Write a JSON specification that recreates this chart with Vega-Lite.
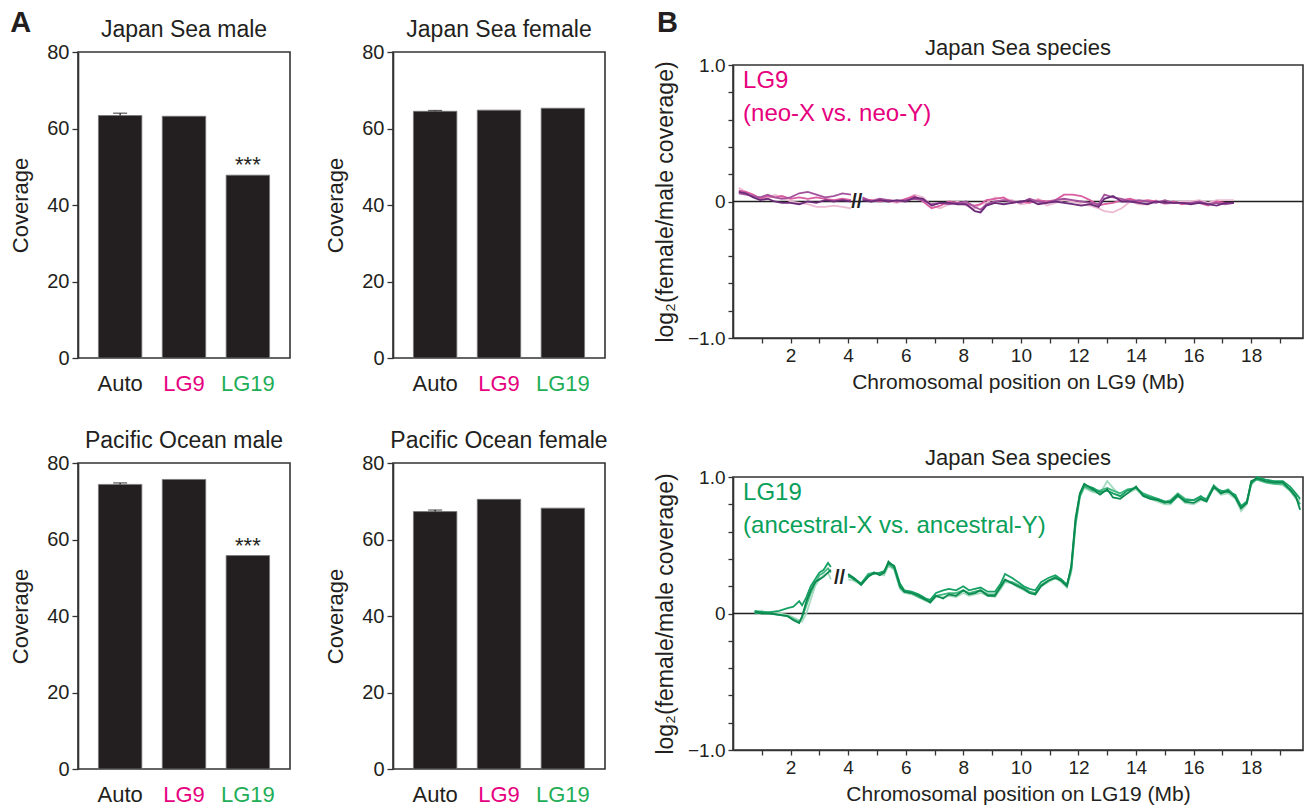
{
  "$schema": "https://vega.github.io/schema/vega-lite/v6.json",
  "padding": {"left": 8, "top": 7, "right": 2, "bottom": 2},
  "background": "white",
  "config": {
    "font": "Liberation Sans",
    "view": {"stroke": "#333333", "strokeWidth": 1.6},
    "axis": {"domainColor": "#333333", "domainWidth": 1.6, "tickColor": "#333333", "tickWidth": 1.3, "labelColor": "#231f20", "titleColor": "#231f20", "grid": false, "titleFontWeight": "normal", "labelFont": "Liberation Sans", "titleFont": "Liberation Sans"},
    "text": {"font": "Liberation Sans", "color": "#231f20"}
  },
  "datasets": {
    "bars": [
      {"panel": "JSM", "chrom": "Auto", "coverage": 63.4, "upper": 64.0, "sig": ""},
      {"panel": "JSM", "chrom": "LG9", "coverage": 63.2, "upper": 63.2, "sig": ""},
      {"panel": "JSM", "chrom": "LG19", "coverage": 47.8, "upper": 47.8, "sig": "***"},
      {"panel": "JSF", "chrom": "Auto", "coverage": 64.5, "upper": 64.7, "sig": ""},
      {"panel": "JSF", "chrom": "LG9", "coverage": 64.8, "upper": 64.8, "sig": ""},
      {"panel": "JSF", "chrom": "LG19", "coverage": 65.3, "upper": 65.3, "sig": ""},
      {"panel": "POM", "chrom": "Auto", "coverage": 74.4, "upper": 74.8, "sig": ""},
      {"panel": "POM", "chrom": "LG9", "coverage": 75.7, "upper": 75.7, "sig": ""},
      {"panel": "POM", "chrom": "LG19", "coverage": 55.8, "upper": 55.8, "sig": "***"},
      {"panel": "POF", "chrom": "Auto", "coverage": 67.3, "upper": 67.7, "sig": ""},
      {"panel": "POF", "chrom": "LG9", "coverage": 70.5, "upper": 70.5, "sig": ""},
      {"panel": "POF", "chrom": "LG19", "coverage": 68.2, "upper": 68.2, "sig": ""}
    ],
    "lg9": [
      {"seg": 1, "pos": 0.2, "a": 0.07, "b": 0.06, "c": 0.08, "d": 0.1},
      {"seg": 1, "pos": 0.45, "a": 0.06, "b": 0.05, "c": 0.07, "d": 0.07},
      {"seg": 1, "pos": 0.7, "a": 0.03, "b": 0.04, "c": 0.05, "d": 0.04},
      {"seg": 1, "pos": 0.95, "a": 0.01, "b": 0.03, "c": 0.02, "d": 0.03},
      {"seg": 1, "pos": 1.2, "a": 0.02, "b": 0.05, "c": 0.04, "d": 0.02},
      {"seg": 1, "pos": 1.45, "a": 0.0, "b": 0.03, "c": 0.03, "d": 0.05},
      {"seg": 1, "pos": 1.7, "a": -0.01, "b": 0.02, "c": 0.04, "d": 0.03},
      {"seg": 1, "pos": 2.0, "a": -0.01, "b": 0.03, "c": 0.02, "d": 0.0},
      {"seg": 1, "pos": 2.3, "a": -0.02, "b": 0.06, "c": 0.03, "d": -0.01},
      {"seg": 1, "pos": 2.6, "a": 0.0, "b": 0.07, "c": 0.02, "d": -0.02},
      {"seg": 1, "pos": 2.9, "a": -0.01, "b": 0.05, "c": 0.03, "d": -0.04},
      {"seg": 1, "pos": 3.2, "a": 0.01, "b": 0.03, "c": 0.02, "d": -0.04},
      {"seg": 1, "pos": 3.5, "a": 0.0, "b": 0.04, "c": 0.01, "d": -0.03},
      {"seg": 1, "pos": 3.8, "a": 0.01, "b": 0.06, "c": 0.02, "d": -0.04},
      {"seg": 1, "pos": 4.1, "a": 0.0, "b": 0.05, "c": 0.01, "d": -0.05},
      {"seg": 2, "pos": 4.5, "a": 0.01, "b": 0.03, "c": 0.02, "d": 0.02},
      {"seg": 2, "pos": 4.8, "a": 0.0, "b": 0.0, "c": 0.01, "d": 0.01},
      {"seg": 2, "pos": 5.1, "a": 0.01, "b": 0.02, "c": 0.0, "d": 0.02},
      {"seg": 2, "pos": 5.4, "a": 0.0, "b": 0.01, "c": 0.01, "d": 0.0},
      {"seg": 2, "pos": 5.7, "a": 0.01, "b": 0.0, "c": 0.0, "d": -0.01},
      {"seg": 2, "pos": 6.0, "a": 0.0, "b": 0.01, "c": 0.02, "d": 0.01},
      {"seg": 2, "pos": 6.3, "a": 0.03, "b": 0.02, "c": 0.04, "d": 0.05},
      {"seg": 2, "pos": 6.6, "a": 0.02, "b": 0.01, "c": 0.0, "d": 0.03},
      {"seg": 2, "pos": 6.9, "a": -0.03, "b": -0.02, "c": -0.05, "d": -0.03},
      {"seg": 2, "pos": 7.2, "a": -0.01, "b": -0.01, "c": -0.03, "d": -0.05},
      {"seg": 2, "pos": 7.5, "a": -0.01, "b": -0.02, "c": 0.0, "d": -0.02},
      {"seg": 2, "pos": 7.8, "a": -0.02, "b": -0.01, "c": -0.01, "d": 0.0},
      {"seg": 2, "pos": 8.1, "a": -0.02, "b": 0.0, "c": -0.02, "d": -0.03},
      {"seg": 2, "pos": 8.4, "a": -0.07, "b": -0.04, "c": -0.03, "d": -0.05},
      {"seg": 2, "pos": 8.6, "a": -0.08, "b": -0.06, "c": -0.02, "d": -0.02},
      {"seg": 2, "pos": 8.8, "a": -0.03, "b": -0.02, "c": 0.01, "d": -0.01},
      {"seg": 2, "pos": 9.1, "a": -0.01, "b": 0.0, "c": 0.02, "d": 0.03},
      {"seg": 2, "pos": 9.4, "a": -0.02, "b": 0.01, "c": 0.03, "d": 0.02},
      {"seg": 2, "pos": 9.7, "a": -0.01, "b": 0.0, "c": -0.01, "d": 0.01},
      {"seg": 2, "pos": 10.0, "a": 0.0, "b": -0.01, "c": 0.0, "d": -0.02},
      {"seg": 2, "pos": 10.3, "a": 0.01, "b": 0.02, "c": -0.01, "d": -0.01},
      {"seg": 2, "pos": 10.6, "a": -0.02, "b": 0.0, "c": 0.01, "d": 0.02},
      {"seg": 2, "pos": 10.9, "a": -0.01, "b": -0.01, "c": 0.0, "d": -0.03},
      {"seg": 2, "pos": 11.2, "a": 0.0, "b": 0.01, "c": 0.01, "d": -0.01},
      {"seg": 2, "pos": 11.5, "a": -0.01, "b": 0.02, "c": 0.05, "d": 0.01},
      {"seg": 2, "pos": 11.8, "a": -0.02, "b": 0.01, "c": 0.05, "d": 0.0},
      {"seg": 2, "pos": 12.1, "a": -0.03, "b": 0.0, "c": 0.04, "d": -0.02},
      {"seg": 2, "pos": 12.4, "a": -0.02, "b": -0.01, "c": 0.01, "d": -0.03},
      {"seg": 2, "pos": 12.7, "a": -0.04, "b": -0.02, "c": -0.03, "d": -0.05},
      {"seg": 2, "pos": 12.9, "a": 0.02, "b": 0.05, "c": -0.02, "d": -0.07},
      {"seg": 2, "pos": 13.2, "a": 0.04, "b": 0.03, "c": -0.01, "d": -0.08},
      {"seg": 2, "pos": 13.5, "a": 0.0, "b": 0.02, "c": 0.01, "d": -0.05},
      {"seg": 2, "pos": 13.8, "a": 0.0, "b": 0.0, "c": 0.02, "d": 0.0},
      {"seg": 2, "pos": 14.1, "a": -0.01, "b": 0.01, "c": 0.0, "d": -0.02},
      {"seg": 2, "pos": 14.4, "a": -0.02, "b": 0.0, "c": 0.01, "d": -0.02},
      {"seg": 2, "pos": 14.7, "a": 0.0, "b": -0.01, "c": 0.0, "d": 0.01},
      {"seg": 2, "pos": 15.0, "a": -0.01, "b": 0.01, "c": -0.01, "d": -0.02},
      {"seg": 2, "pos": 15.3, "a": -0.01, "b": -0.01, "c": 0.0, "d": -0.01},
      {"seg": 2, "pos": 15.6, "a": -0.01, "b": -0.01, "c": -0.02, "d": 0.0},
      {"seg": 2, "pos": 15.9, "a": -0.02, "b": -0.01, "c": -0.01, "d": 0.0},
      {"seg": 2, "pos": 16.2, "a": -0.01, "b": 0.0, "c": -0.01, "d": 0.01},
      {"seg": 2, "pos": 16.5, "a": -0.02, "b": -0.02, "c": -0.03, "d": -0.01},
      {"seg": 2, "pos": 16.8, "a": -0.03, "b": -0.01, "c": 0.0, "d": 0.01},
      {"seg": 2, "pos": 17.1, "a": -0.01, "b": -0.02, "c": -0.01, "d": 0.01},
      {"seg": 2, "pos": 17.4, "a": -0.01, "b": -0.01, "c": -0.01, "d": 0.01}
    ],
    "lg19": [
      {"seg": 1, "pos": 0.75, "a": 0.01, "b": 0.02, "c": 0.0, "d": 0.01},
      {"seg": 1, "pos": 1.0, "a": 0.0, "b": 0.01, "c": 0.01, "d": 0.02},
      {"seg": 1, "pos": 1.3, "a": 0.0, "b": 0.01, "c": 0.0, "d": 0.0},
      {"seg": 1, "pos": 1.6, "a": -0.01, "b": 0.02, "c": -0.01, "d": 0.0},
      {"seg": 1, "pos": 1.9, "a": -0.02, "b": 0.04, "c": -0.02, "d": -0.01},
      {"seg": 1, "pos": 2.1, "a": -0.05, "b": 0.05, "c": -0.04, "d": -0.03},
      {"seg": 1, "pos": 2.3, "a": -0.07, "b": 0.09, "c": -0.06, "d": -0.05},
      {"seg": 1, "pos": 2.4, "a": -0.02, "b": 0.06, "c": -0.03, "d": -0.06},
      {"seg": 1, "pos": 2.55, "a": 0.09, "b": 0.12, "c": 0.06, "d": 0.0},
      {"seg": 1, "pos": 2.7, "a": 0.17, "b": 0.2, "c": 0.15, "d": 0.1},
      {"seg": 1, "pos": 2.85, "a": 0.23, "b": 0.25, "c": 0.22, "d": 0.2},
      {"seg": 1, "pos": 3.0, "a": 0.25, "b": 0.3, "c": 0.28, "d": 0.25},
      {"seg": 1, "pos": 3.15, "a": 0.27, "b": 0.32, "c": 0.3, "d": 0.28},
      {"seg": 1, "pos": 3.3, "a": 0.3, "b": 0.37, "c": 0.33, "d": 0.3},
      {"seg": 1, "pos": 3.4, "a": 0.32, "b": 0.34, "c": 0.3, "d": 0.25},
      {"seg": 2, "pos": 4.0, "a": 0.29, "b": 0.28, "c": 0.27, "d": 0.25},
      {"seg": 2, "pos": 4.2, "a": 0.26, "b": 0.25, "c": 0.26, "d": 0.24},
      {"seg": 2, "pos": 4.45, "a": 0.21, "b": 0.22, "c": 0.22, "d": 0.21},
      {"seg": 2, "pos": 4.7, "a": 0.27, "b": 0.28, "c": 0.29, "d": 0.27},
      {"seg": 2, "pos": 4.9, "a": 0.3, "b": 0.29, "c": 0.3, "d": 0.3},
      {"seg": 2, "pos": 5.1, "a": 0.28, "b": 0.3, "c": 0.29, "d": 0.29},
      {"seg": 2, "pos": 5.25, "a": 0.3, "b": 0.31, "c": 0.3, "d": 0.28},
      {"seg": 2, "pos": 5.4, "a": 0.38, "b": 0.37, "c": 0.36, "d": 0.35},
      {"seg": 2, "pos": 5.6, "a": 0.34, "b": 0.35, "c": 0.33, "d": 0.32},
      {"seg": 2, "pos": 5.8, "a": 0.2, "b": 0.22, "c": 0.19, "d": 0.18},
      {"seg": 2, "pos": 5.95, "a": 0.16, "b": 0.17, "c": 0.16, "d": 0.15},
      {"seg": 2, "pos": 6.2, "a": 0.15, "b": 0.16, "c": 0.15, "d": 0.14},
      {"seg": 2, "pos": 6.45, "a": 0.13, "b": 0.14, "c": 0.12, "d": 0.12},
      {"seg": 2, "pos": 6.7, "a": 0.1, "b": 0.11, "c": 0.1, "d": 0.09},
      {"seg": 2, "pos": 6.85, "a": 0.08, "b": 0.1, "c": 0.09, "d": 0.08},
      {"seg": 2, "pos": 7.05, "a": 0.13, "b": 0.15, "c": 0.13, "d": 0.12},
      {"seg": 2, "pos": 7.3, "a": 0.11, "b": 0.17, "c": 0.14, "d": 0.12},
      {"seg": 2, "pos": 7.5, "a": 0.14, "b": 0.18, "c": 0.15, "d": 0.13},
      {"seg": 2, "pos": 7.75, "a": 0.13, "b": 0.17, "c": 0.15, "d": 0.12},
      {"seg": 2, "pos": 8.0, "a": 0.17, "b": 0.2, "c": 0.17, "d": 0.15},
      {"seg": 2, "pos": 8.2, "a": 0.14, "b": 0.17, "c": 0.15, "d": 0.13},
      {"seg": 2, "pos": 8.4, "a": 0.15, "b": 0.18, "c": 0.16, "d": 0.14},
      {"seg": 2, "pos": 8.6, "a": 0.17, "b": 0.19, "c": 0.17, "d": 0.15},
      {"seg": 2, "pos": 8.85, "a": 0.13, "b": 0.16, "c": 0.14, "d": 0.13},
      {"seg": 2, "pos": 9.1, "a": 0.13, "b": 0.16, "c": 0.14, "d": 0.12},
      {"seg": 2, "pos": 9.3, "a": 0.2, "b": 0.22, "c": 0.19, "d": 0.18},
      {"seg": 2, "pos": 9.45, "a": 0.25, "b": 0.29, "c": 0.24, "d": 0.23},
      {"seg": 2, "pos": 9.7, "a": 0.22, "b": 0.26, "c": 0.23, "d": 0.22},
      {"seg": 2, "pos": 9.9, "a": 0.2, "b": 0.23, "c": 0.21, "d": 0.19},
      {"seg": 2, "pos": 10.1, "a": 0.18, "b": 0.2, "c": 0.19, "d": 0.17},
      {"seg": 2, "pos": 10.3, "a": 0.15, "b": 0.18, "c": 0.16, "d": 0.15},
      {"seg": 2, "pos": 10.5, "a": 0.14, "b": 0.17, "c": 0.15, "d": 0.14},
      {"seg": 2, "pos": 10.7, "a": 0.2, "b": 0.23, "c": 0.21, "d": 0.2},
      {"seg": 2, "pos": 10.95, "a": 0.24, "b": 0.26, "c": 0.24, "d": 0.23},
      {"seg": 2, "pos": 11.2, "a": 0.26, "b": 0.28, "c": 0.27, "d": 0.26},
      {"seg": 2, "pos": 11.4, "a": 0.24, "b": 0.25, "c": 0.25, "d": 0.23},
      {"seg": 2, "pos": 11.6, "a": 0.2, "b": 0.21, "c": 0.21, "d": 0.19},
      {"seg": 2, "pos": 11.75, "a": 0.35, "b": 0.33, "c": 0.32, "d": 0.3},
      {"seg": 2, "pos": 11.9, "a": 0.7, "b": 0.68, "c": 0.66, "d": 0.64},
      {"seg": 2, "pos": 12.05, "a": 0.88, "b": 0.87, "c": 0.86, "d": 0.85},
      {"seg": 2, "pos": 12.2, "a": 0.95, "b": 0.94, "c": 0.93, "d": 0.92},
      {"seg": 2, "pos": 12.5, "a": 0.91, "b": 0.92, "c": 0.9, "d": 0.89},
      {"seg": 2, "pos": 12.75, "a": 0.87, "b": 0.89, "c": 0.9, "d": 0.88},
      {"seg": 2, "pos": 13.0, "a": 0.91, "b": 0.9, "c": 0.92, "d": 0.97},
      {"seg": 2, "pos": 13.2, "a": 0.85, "b": 0.88, "c": 0.9, "d": 0.92},
      {"seg": 2, "pos": 13.45, "a": 0.84, "b": 0.86, "c": 0.88, "d": 0.86},
      {"seg": 2, "pos": 13.7, "a": 0.88, "b": 0.9, "c": 0.91, "d": 0.88},
      {"seg": 2, "pos": 14.0, "a": 0.93, "b": 0.92, "c": 0.92, "d": 0.91},
      {"seg": 2, "pos": 14.25, "a": 0.86, "b": 0.87, "c": 0.88, "d": 0.86},
      {"seg": 2, "pos": 14.5, "a": 0.84, "b": 0.85, "c": 0.86, "d": 0.84},
      {"seg": 2, "pos": 14.75, "a": 0.83, "b": 0.84, "c": 0.84, "d": 0.82},
      {"seg": 2, "pos": 15.0, "a": 0.81, "b": 0.82, "c": 0.82, "d": 0.8},
      {"seg": 2, "pos": 15.2, "a": 0.82, "b": 0.81, "c": 0.83, "d": 0.8},
      {"seg": 2, "pos": 15.45, "a": 0.87, "b": 0.86, "c": 0.88, "d": 0.86},
      {"seg": 2, "pos": 15.7, "a": 0.82, "b": 0.83, "c": 0.84, "d": 0.81},
      {"seg": 2, "pos": 16.0, "a": 0.81, "b": 0.83, "c": 0.83, "d": 0.8},
      {"seg": 2, "pos": 16.25, "a": 0.84, "b": 0.86, "c": 0.85, "d": 0.83},
      {"seg": 2, "pos": 16.45, "a": 0.82, "b": 0.83, "c": 0.84, "d": 0.82},
      {"seg": 2, "pos": 16.7, "a": 0.93, "b": 0.92, "c": 0.94, "d": 0.92},
      {"seg": 2, "pos": 16.95, "a": 0.88, "b": 0.9, "c": 0.89, "d": 0.87},
      {"seg": 2, "pos": 17.2, "a": 0.9, "b": 0.89, "c": 0.91, "d": 0.88},
      {"seg": 2, "pos": 17.45, "a": 0.85, "b": 0.87, "c": 0.86, "d": 0.84},
      {"seg": 2, "pos": 17.65, "a": 0.77, "b": 0.78, "c": 0.79, "d": 0.75},
      {"seg": 2, "pos": 17.85, "a": 0.81, "b": 0.82, "c": 0.82, "d": 0.8},
      {"seg": 2, "pos": 18.0, "a": 0.97, "b": 0.95, "c": 0.96, "d": 0.94},
      {"seg": 2, "pos": 18.2, "a": 0.99, "b": 1.0, "c": 0.98, "d": 0.99},
      {"seg": 2, "pos": 18.5, "a": 0.97, "b": 0.98, "c": 0.96, "d": 0.96},
      {"seg": 2, "pos": 18.8, "a": 0.96, "b": 0.97, "c": 0.95, "d": 0.95},
      {"seg": 2, "pos": 19.1, "a": 0.96, "b": 0.97, "c": 0.95, "d": 0.94},
      {"seg": 2, "pos": 19.35, "a": 0.91, "b": 0.93, "c": 0.9, "d": 0.9},
      {"seg": 2, "pos": 19.55, "a": 0.86, "b": 0.88, "c": 0.85, "d": 0.84},
      {"seg": 2, "pos": 19.7, "a": 0.76, "b": 0.84, "c": 0.8, "d": 0.83}
    ]
  },
  "spacing": 44,
  "hconcat": [
    {
      "spacing": 0,
      "vconcat": [
        {"width": 212, "height": 1, "view": {"stroke": null}, "data": {"values": []}, "mark": "point"},
        {
          "spacing": 34,
          "vconcat": [
            {
              "spacing": 103,
              "bounds": "flush",
              "hconcat": [
                {
                  "width": 212, "height": 306,
                  "resolve": {"scale": {"x": "independent"}},
                  "layer": [
                    {
                      "data": {"name": "bars"},
                      "transform": [{"filter": "datum.panel == 'JSM'"}],
                      "encoding": {"x": {"field": "chrom", "type": "nominal", "sort": ["Auto", "LG9", "LG19"], "scale": {"paddingInner": 0.32, "paddingOuter": 0.32}, "axis": {"title": null, "labelAngle": 0, "labelFontSize": 22, "labelPadding": 15, "ticks": false, "domain": false, "labelColor": {"expr": "datum.value == 'LG9' ? '#e6007e' : datum.value == 'LG19' ? '#1fae57' : '#231f20'"}}}},
                      "layer": [
                        {"mark": {"type": "bar", "color": "#231f20", "stroke": "#777777", "strokeWidth": 0.8}, "encoding": {"y": {"field": "coverage", "type": "quantitative", "scale": {"domain": [0, 80], "nice": false}, "axis": {"title": "Coverage", "titleFontSize": 22, "labelFontSize": 20, "values": [0, 20, 40, 60, 80], "tickSize": 6, "labelPadding": 3, "titlePadding": 14}}}},
                        {"transform": [{"filter": "datum.upper > datum.coverage"}], "mark": {"type": "rule", "color": "#231f20", "strokeWidth": 1.3}, "encoding": {"y": {"field": "coverage", "type": "quantitative"}, "y2": {"field": "upper"}}},
                        {"transform": [{"filter": "datum.upper > datum.coverage"}], "mark": {"type": "tick", "color": "#231f20", "thickness": 1.3, "size": 14}, "encoding": {"y": {"field": "upper", "type": "quantitative"}}},
                        {"mark": {"type": "text", "fontSize": 22, "dy": -3, "baseline": "alphabetic"}, "encoding": {"y": {"field": "coverage", "type": "quantitative"}, "text": {"field": "sig"}}}
                      ]
                    },
                    {"data": {"values": [{}]}, "mark": {"type": "text", "text": "Japan Sea male", "fontSize": 23, "baseline": "alphabetic", "align": "center"}, "encoding": {"x": {"datum": 0.5, "type": "quantitative", "scale": {"domain": [0, 1]}, "axis": null}, "y": {"datum": 83.9, "type": "quantitative"}}},
                    {"data": {"values": [{}]}, "mark": {"type": "text", "text": "A", "fontSize": 29, "fontWeight": "bold", "baseline": "alphabetic", "align": "left"}, "encoding": {"x": {"datum": -0.32, "type": "quantitative", "scale": {"domain": [0, 1]}, "axis": null}, "y": {"datum": 85.2, "type": "quantitative"}}}
                  ]
                },
                {
                  "width": 212, "height": 306,
                  "resolve": {"scale": {"x": "independent"}},
                  "layer": [
                    {
                      "data": {"name": "bars"},
                      "transform": [{"filter": "datum.panel == 'JSF'"}],
                      "encoding": {"x": {"field": "chrom", "type": "nominal", "sort": ["Auto", "LG9", "LG19"], "scale": {"paddingInner": 0.32, "paddingOuter": 0.32}, "axis": {"title": null, "labelAngle": 0, "labelFontSize": 22, "labelPadding": 15, "ticks": false, "domain": false, "labelColor": {"expr": "datum.value == 'LG9' ? '#e6007e' : datum.value == 'LG19' ? '#1fae57' : '#231f20'"}}}},
                      "layer": [
                        {"mark": {"type": "bar", "color": "#231f20", "stroke": "#777777", "strokeWidth": 0.8}, "encoding": {"y": {"field": "coverage", "type": "quantitative", "scale": {"domain": [0, 80], "nice": false}, "axis": {"title": "Coverage", "titleFontSize": 22, "labelFontSize": 20, "values": [0, 20, 40, 60, 80], "tickSize": 6, "labelPadding": 3, "titlePadding": 14}}}},
                        {"transform": [{"filter": "datum.upper > datum.coverage"}], "mark": {"type": "rule", "color": "#231f20", "strokeWidth": 1.3}, "encoding": {"y": {"field": "coverage", "type": "quantitative"}, "y2": {"field": "upper"}}},
                        {"transform": [{"filter": "datum.upper > datum.coverage"}], "mark": {"type": "tick", "color": "#231f20", "thickness": 1.3, "size": 14}, "encoding": {"y": {"field": "upper", "type": "quantitative"}}},
                        {"mark": {"type": "text", "fontSize": 22, "dy": -3, "baseline": "alphabetic"}, "encoding": {"y": {"field": "coverage", "type": "quantitative"}, "text": {"field": "sig"}}}
                      ]
                    },
                    {"data": {"values": [{}]}, "mark": {"type": "text", "text": "Japan Sea female", "fontSize": 23, "baseline": "alphabetic", "align": "center"}, "encoding": {"x": {"datum": 0.5, "type": "quantitative", "scale": {"domain": [0, 1]}, "axis": null}, "y": {"datum": 83.9, "type": "quantitative"}}}
                  ]
                }
              ]
            },
            {
              "spacing": 103,
              "bounds": "flush",
              "hconcat": [
                {
                  "width": 212, "height": 306,
                  "resolve": {"scale": {"x": "independent"}},
                  "layer": [
                    {
                      "data": {"name": "bars"},
                      "transform": [{"filter": "datum.panel == 'POM'"}],
                      "encoding": {"x": {"field": "chrom", "type": "nominal", "sort": ["Auto", "LG9", "LG19"], "scale": {"paddingInner": 0.32, "paddingOuter": 0.32}, "axis": {"title": null, "labelAngle": 0, "labelFontSize": 22, "labelPadding": 15, "ticks": false, "domain": false, "labelColor": {"expr": "datum.value == 'LG9' ? '#e6007e' : datum.value == 'LG19' ? '#1fae57' : '#231f20'"}}}},
                      "layer": [
                        {"mark": {"type": "bar", "color": "#231f20", "stroke": "#777777", "strokeWidth": 0.8}, "encoding": {"y": {"field": "coverage", "type": "quantitative", "scale": {"domain": [0, 80], "nice": false}, "axis": {"title": "Coverage", "titleFontSize": 22, "labelFontSize": 20, "values": [0, 20, 40, 60, 80], "tickSize": 6, "labelPadding": 3, "titlePadding": 14}}}},
                        {"transform": [{"filter": "datum.upper > datum.coverage"}], "mark": {"type": "rule", "color": "#231f20", "strokeWidth": 1.3}, "encoding": {"y": {"field": "coverage", "type": "quantitative"}, "y2": {"field": "upper"}}},
                        {"transform": [{"filter": "datum.upper > datum.coverage"}], "mark": {"type": "tick", "color": "#231f20", "thickness": 1.3, "size": 14}, "encoding": {"y": {"field": "upper", "type": "quantitative"}}},
                        {"mark": {"type": "text", "fontSize": 22, "dy": -3, "baseline": "alphabetic"}, "encoding": {"y": {"field": "coverage", "type": "quantitative"}, "text": {"field": "sig"}}}
                      ]
                    },
                    {"data": {"values": [{}]}, "mark": {"type": "text", "text": "Pacific Ocean male", "fontSize": 23, "baseline": "alphabetic", "align": "center"}, "encoding": {"x": {"datum": 0.5, "type": "quantitative", "scale": {"domain": [0, 1]}, "axis": null}, "y": {"datum": 83.9, "type": "quantitative"}}}
                  ]
                },
                {
                  "width": 212, "height": 306,
                  "resolve": {"scale": {"x": "independent"}},
                  "layer": [
                    {
                      "data": {"name": "bars"},
                      "transform": [{"filter": "datum.panel == 'POF'"}],
                      "encoding": {"x": {"field": "chrom", "type": "nominal", "sort": ["Auto", "LG9", "LG19"], "scale": {"paddingInner": 0.32, "paddingOuter": 0.32}, "axis": {"title": null, "labelAngle": 0, "labelFontSize": 22, "labelPadding": 15, "ticks": false, "domain": false, "labelColor": {"expr": "datum.value == 'LG9' ? '#e6007e' : datum.value == 'LG19' ? '#1fae57' : '#231f20'"}}}},
                      "layer": [
                        {"mark": {"type": "bar", "color": "#231f20", "stroke": "#777777", "strokeWidth": 0.8}, "encoding": {"y": {"field": "coverage", "type": "quantitative", "scale": {"domain": [0, 80], "nice": false}, "axis": {"title": "Coverage", "titleFontSize": 22, "labelFontSize": 20, "values": [0, 20, 40, 60, 80], "tickSize": 6, "labelPadding": 3, "titlePadding": 14}}}},
                        {"transform": [{"filter": "datum.upper > datum.coverage"}], "mark": {"type": "rule", "color": "#231f20", "strokeWidth": 1.3}, "encoding": {"y": {"field": "coverage", "type": "quantitative"}, "y2": {"field": "upper"}}},
                        {"transform": [{"filter": "datum.upper > datum.coverage"}], "mark": {"type": "tick", "color": "#231f20", "thickness": 1.3, "size": 14}, "encoding": {"y": {"field": "upper", "type": "quantitative"}}},
                        {"mark": {"type": "text", "fontSize": 22, "dy": -3, "baseline": "alphabetic"}, "encoding": {"y": {"field": "coverage", "type": "quantitative"}, "text": {"field": "sig"}}}
                      ]
                    },
                    {"data": {"values": [{}]}, "mark": {"type": "text", "text": "Pacific Ocean female", "fontSize": 23, "baseline": "alphabetic", "align": "center"}, "encoding": {"x": {"datum": 0.5, "type": "quantitative", "scale": {"domain": [0, 1]}, "axis": null}, "y": {"datum": 83.9, "type": "quantitative"}}}
                  ]
                }
              ]
            }
          ]
        }
      ]
    },
    {
      "spacing": 0,
      "vconcat": [
        {"width": 570, "height": 1, "view": {"stroke": null}, "data": {"values": []}, "mark": "point"},
        {
          "spacing": 53,
          "resolve": {"scale": {"color": "independent"}},
          "vconcat": [
            {
              "width": 570, "height": 273,
              "resolve": {"axis": {"x": "independent", "y": "independent"}},
              "layer": [
                {"data": {"values": [{}]}, "mark": {"type": "rule", "color": "#231f20", "strokeWidth": 1.5}, "encoding": {"y": {"datum": 0, "type": "quantitative", "axis": null}}},
                {
                  "data": {"name": "lg9"},
                  "transform": [{"fold": ["d", "c", "b", "a"], "as": ["rep", "ratio"]}],
                  "mark": {"type": "point", "opacity": 0},
                  "encoding": {
                    "x": {"field": "pos", "type": "quantitative", "axis": {"orient": "bottom", "title": null, "labels": false, "domain": false, "values": [1, 3, 5, 7, 9, 11, 13, 15, 17, 19], "tickSize": 5}},
                    "y": {"field": "ratio", "type": "quantitative", "axis": {"orient": "left", "title": null, "labels": false, "domain": false, "values": [-0.8, -0.6, -0.4, -0.2, 0.2, 0.4, 0.6, 0.8], "tickSize": 5}}
                  }
                },
                {
                  "data": {"name": "lg9"},
                  "transform": [{"fold": ["d", "c", "b", "a"], "as": ["rep", "ratio"]}],
                  "mark": {"type": "line", "strokeWidth": 1.8},
                  "encoding": {
                    "x": {"field": "pos", "type": "quantitative", "scale": {"domain": [0, 19.8], "nice": false, "zero": false}, "axis": {"orient": "bottom", "title": "Chromosomal position on LG9 (Mb)", "titleFontSize": 21, "labelFontSize": 19, "values": [2, 4, 6, 8, 10, 12, 14, 16, 18], "tickSize": 5, "labelPadding": 3, "titlePadding": 6}},
                    "y": {"field": "ratio", "type": "quantitative", "scale": {"domain": [-1, 1], "nice": false}, "axis": {"orient": "left", "title": "log₂(female/male coverage)", "titleFontSize": 23, "labelFontSize": 19, "values": [-1, 0, 1], "labelExpr": "datum.value == 0 ? '0' : format(datum.value, '.1f')", "tickSize": 5, "labelPadding": 3, "titlePadding": 10}},
                    "color": {"field": "rep", "type": "nominal", "scale": {"domain": ["d", "c", "b", "a"], "range": ["#ecbad2", "#d95da0", "#a4529c", "#6c2c7a"]}, "legend": null},
                    "detail": {"field": "seg"}
                  }
                },
                {"data": {"values": [{}]}, "mark": {"type": "text", "text": "//", "fontSize": 20, "fontWeight": "bold"}, "encoding": {"x": {"datum": 4.3, "axis": null}, "y": {"datum": 0, "axis": null}}},
                {"data": {"values": [{}]}, "mark": {"type": "text", "text": "LG9", "align": "left", "baseline": "middle", "fontSize": 24, "color": "#e6007e"}, "encoding": {"x": {"datum": 0.35, "axis": null}, "y": {"datum": 0.88, "axis": null}}},
                {"data": {"values": [{}]}, "mark": {"type": "text", "text": "(neo-X vs. neo-Y)", "align": "left", "baseline": "middle", "fontSize": 24, "color": "#e6007e"}, "encoding": {"x": {"datum": 0.35, "axis": null}, "y": {"datum": 0.64, "axis": null}}},
                {"data": {"values": [{}]}, "mark": {"type": "text", "text": "Japan Sea species", "align": "center", "baseline": "alphabetic", "fontSize": 22}, "encoding": {"x": {"datum": 9.9, "axis": null}, "y": {"datum": 1.075, "axis": null}}},
                {"data": {"values": [{}]}, "mark": {"type": "text", "text": "B", "align": "left", "baseline": "alphabetic", "fontSize": 29, "fontWeight": "bold"}, "encoding": {"x": {"datum": -2.64, "axis": null}, "y": {"datum": 1.242, "axis": null}}}
              ]
            },
            {
              "width": 570, "height": 273,
              "resolve": {"axis": {"x": "independent", "y": "independent"}},
              "layer": [
                {"data": {"values": [{}]}, "mark": {"type": "rule", "color": "#231f20", "strokeWidth": 1.5}, "encoding": {"y": {"datum": 0, "type": "quantitative", "axis": null}}},
                {
                  "data": {"name": "lg19"},
                  "transform": [{"fold": ["d", "c", "b", "a"], "as": ["rep", "ratio"]}],
                  "mark": {"type": "point", "opacity": 0},
                  "encoding": {
                    "x": {"field": "pos", "type": "quantitative", "axis": {"orient": "bottom", "title": null, "labels": false, "domain": false, "values": [1, 3, 5, 7, 9, 11, 13, 15, 17, 19], "tickSize": 5}},
                    "y": {"field": "ratio", "type": "quantitative", "axis": {"orient": "left", "title": null, "labels": false, "domain": false, "values": [-0.8, -0.6, -0.4, -0.2, 0.2, 0.4, 0.6, 0.8], "tickSize": 5}}
                  }
                },
                {
                  "data": {"name": "lg19"},
                  "transform": [{"fold": ["d", "c", "b", "a"], "as": ["rep", "ratio"]}],
                  "mark": {"type": "line", "strokeWidth": 1.8},
                  "encoding": {
                    "x": {"field": "pos", "type": "quantitative", "scale": {"domain": [0, 19.8], "nice": false, "zero": false}, "axis": {"orient": "bottom", "title": "Chromosomal position on LG19 (Mb)", "titleFontSize": 21, "labelFontSize": 19, "values": [2, 4, 6, 8, 10, 12, 14, 16, 18], "tickSize": 5, "labelPadding": 3, "titlePadding": 6}},
                    "y": {"field": "ratio", "type": "quantitative", "scale": {"domain": [-1, 1], "nice": false}, "axis": {"orient": "left", "title": "log₂(female/male coverage)", "titleFontSize": 23, "labelFontSize": 19, "values": [-1, 0, 1], "labelExpr": "datum.value == 0 ? '0' : format(datum.value, '.1f')", "tickSize": 5, "labelPadding": 3, "titlePadding": 10}},
                    "color": {"field": "rep", "type": "nominal", "scale": {"domain": ["d", "c", "b", "a"], "range": ["#a6dbbf", "#40b67f", "#17a064", "#0a8a4f"]}, "legend": null},
                    "detail": {"field": "seg"}
                  }
                },
                {"data": {"values": [{}]}, "mark": {"type": "text", "text": "//", "fontSize": 20, "fontWeight": "bold"}, "encoding": {"x": {"datum": 3.7, "axis": null}, "y": {"datum": 0.26, "axis": null}}},
                {"data": {"values": [{}]}, "mark": {"type": "text", "text": "LG19", "align": "left", "baseline": "middle", "fontSize": 24, "color": "#0aa05a"}, "encoding": {"x": {"datum": 0.35, "axis": null}, "y": {"datum": 0.88, "axis": null}}},
                {"data": {"values": [{}]}, "mark": {"type": "text", "text": "(ancestral-X vs. ancestral-Y)", "align": "left", "baseline": "middle", "fontSize": 24, "color": "#0aa05a"}, "encoding": {"x": {"datum": 0.35, "axis": null}, "y": {"datum": 0.64, "axis": null}}},
                {"data": {"values": [{}]}, "mark": {"type": "text", "text": "Japan Sea species", "align": "center", "baseline": "alphabetic", "fontSize": 22}, "encoding": {"x": {"datum": 9.9, "axis": null}, "y": {"datum": 1.085, "axis": null}}}
              ]
            }
          ]
        }
      ]
    }
  ]
}
